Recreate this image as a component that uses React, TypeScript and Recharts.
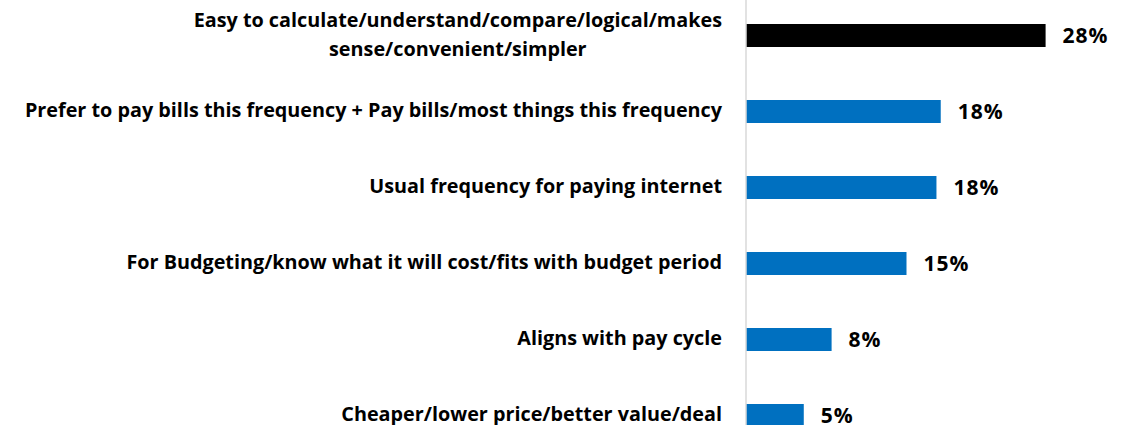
import React from 'react'
import { BarChart, Bar, XAxis, YAxis, Cell, LabelList } from 'recharts'

const reasons = [
  'Easy to calculate/understand/compare/logical/makes\nsense/convenient/simpler',
  'Prefer to pay bills this frequency + Pay bills/most things this frequency',
  'Usual frequency for paying internet',
  'For Budgeting/know what it will cost/fits with budget period',
  'Aligns with pay cycle',
  'Cheaper/lower price/better value/deal',
]
const shares = [28, 18.2, 17.8, 15, 8, 5.4]
const barColors = ['#000000', '#0070C0', '#0070C0', '#0070C0', '#0070C0', '#0070C0']

const data = reasons.map((reason, i) => ({ reason, share: shares[i] }))

const FONT = '"Open Sans", "Noto Sans", sans-serif'
const TICK_SIZE = 19.8

function measure(s: string) {
  const ctx = document.createElement('canvas').getContext('2d')
  if (!ctx) return s.length * 9
  ctx.font = `bold ${TICK_SIZE}px "Open Sans"`
  return ctx.measureText(s).width
}

function ReasonTick(props: any) {
  const { x, y, payload } = props
  const lines = String(payload.value).split('\n')
  const right = x - 24
  const style = { fontFamily: FONT, fontWeight: 700, fontSize: TICK_SIZE, fill: '#000' }
  if (lines.length === 1) {
    return (
      <text x={right} y={y + 6} textAnchor="end" style={style}>
        {lines[0]}
      </text>
    )
  }
  const w = measure(lines[0])
  return (
    <g>
      <text x={right} y={y - 8} textAnchor="end" style={style}>
        {lines[0]}
      </text>
      <text x={right - w / 2} y={y + 21} textAnchor="middle" style={style}>
        {lines[1]}
      </text>
    </g>
  )
}

export default function App() {
  return (
    <div style={{ position: 'absolute', left: 0, top: 0, width: 1139, height: 425, overflow: 'hidden', background: '#fff' }}>
      <div style={{ position: 'absolute', left: 0, top: -3 }}>
        <BarChart
          width={1139}
          height={456}
          data={data}
          layout="vertical"
          margin={{ top: 0, right: 72, bottom: 0, left: 0 }}
        >
          <XAxis type="number" domain={[0, 30]} hide />
          <YAxis
            type="category"
            dataKey="reason"
            width={746}
            interval={0}
            tickLine={false}
            tickSize={0}
            tickMargin={0}
            axisLine={{ stroke: '#d9d9d9', strokeWidth: 1.5 }}
            tick={<ReasonTick />}
          />
          <Bar dataKey="share" barSize={23} isAnimationActive={false}>
            {data.map((d, i) => (
              <Cell key={d.reason} fill={barColors[i]} />
            ))}
            <LabelList
              dataKey="share"
              position="right"
              offset={17}
              formatter={(v: any) => `${Math.round(Number(v))}%`}
              style={{ fontFamily: FONT, fontWeight: 700, fontSize: 21, letterSpacing: 1, fill: '#000' }}
            />
          </Bar>
        </BarChart>
      </div>
    </div>
  )
}
